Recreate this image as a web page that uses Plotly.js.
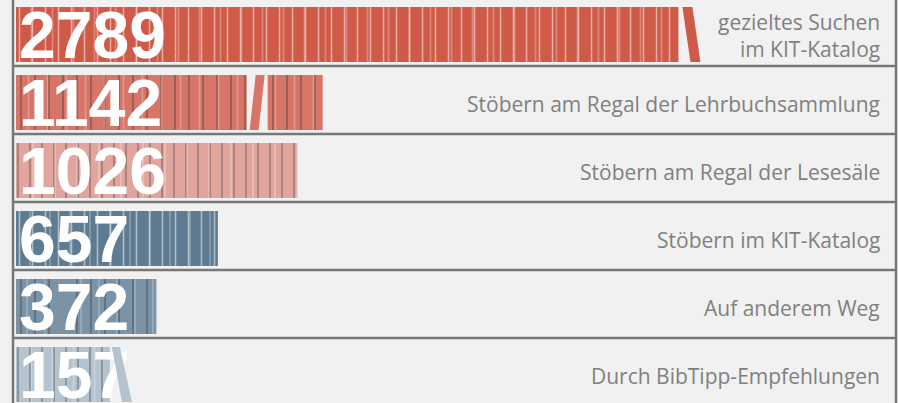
<!DOCTYPE html>
<html><head><meta charset="utf-8">
<script src="https://cdn.plot.ly/plotly-3.0.1.min.js"></script>
<style>html,body{margin:0;padding:0;background:#f0f1f0;} #chart{width:898px;height:403px;}</style>
</head><body><div id="chart"></div>
<script>
// ---- data ----
const categories = ['gezieltes Suchen<br>im KIT-Katalog', 'Stöbern am Regal der Lehrbuchsammlung', 'Stöbern am Regal der Lesesäle', 'Stöbern im KIT-Katalog', 'Auf anderem Weg', 'Durch BibTipp-Empfehlungen'];
const values = [2789, 1142, 1026, 657, 372, 157];
const valueLabels = ['2789', '1142', '1026', '657', '372', '157'];

// ---- style ----
const colors = ['#cf5a48', '#d97567', '#e2a59d', '#5e7b91', '#7b93a7', '#b3c3cf'];
const BG = '#f0f1f0';
const W = 898, H = 403;
const PX_PER_UNIT = 0.216;
const U = 1 / PX_PER_UNIT;
const ZERO_PX = 76;
const xMin = -ZERO_PX * U;
const xMax = xMin + W * U;
const X_START = xMin + 16 * U;   // left edge of the shelf (axis start of the bars)
const ROW_PX = 68;
const yTop = -34.5 / ROW_PX;
const yBottom = yTop + H / ROW_PX;
const BAR_W = 55 / ROW_PX;

const idx = values.map((v, i) => i);

const traceBooks = {
  type: 'bar', orientation: 'h', y: categories,
  x: values.map(v => v - X_START), base: X_START, width: BAR_W,
  marker: {color: colors, line: {width: 0},
    pattern: {shape: '|', fillmode: 'overlay', fgcolor: 'rgba(255,255,255,0.7)',
      size: idx.map(i => [13, 14, 12, 13, 14, 12][i]), solidity: 0.12}},
  text: valueLabels, textposition: 'inside', insidetextanchor: 'start', constraintext: 'none', textangle: 0,
  insidetextfont: {family: 'Liberation Sans, Arial, sans-serif', size: 66, color: '#ffffff', weight: 'bold'},
  hoverinfo: 'skip', showlegend: false
};
const traceGaps = {
  type: 'bar', orientation: 'h', y: categories,
  x: values.map(v => v - X_START), base: X_START, width: BAR_W,
  marker: {color: 'rgba(0,0,0,0)', line: {width: 0},
    pattern: {shape: '|', fillmode: 'overlay', bgcolor: 'rgba(0,0,0,0)', fgcolor: 'rgba(255,255,255,0.55)',
      size: idx.map(i => [21, 19, 22, 20, 18, 21][i]), solidity: 0.08}},
  hoverinfo: 'skip', showlegend: false
};

const shapes = [];
// shelf boards
for (let i = 0; i < 6; i++) {
  const y = i + (66 - 34.5) / ROW_PX;
  shapes.push({type: 'line', xref: 'paper', yref: 'y', x0: 13 / W, x1: 897 / W, y0: y, y1: y,
    line: {color: '#777777', width: 2.5}});
}
// side walls
shapes.push({type: 'line', xref: 'paper', yref: 'paper', x0: 13 / W, x1: 13 / W, y0: 0, y1: 1, line: {color: '#777777', width: 2.5}});
shapes.push({type: 'line', xref: 'paper', yref: 'paper', x0: 896 / W, x1: 896 / W, y0: 0, y1: 1, line: {color: '#777777', width: 2.5}});

function book(i, end, tl, tr, br, bl, col) {
  const t = i - BAR_W / 2, b = i + BAR_W / 2;
  return {type: 'path', xref: 'x', yref: 'y', layer: 'above',
    path: `M${end + tl * U},${t} L${end + tr * U},${t} L${end + br * U},${b} L${end + bl * U},${b} Z`,
    fillcolor: col, line: {width: 0}};
}
// leaning books
shapes.push(book(0, values[0], 4, 14, 22, 12, colors[0]));
shapes.push(book(5, values[5], 2, 10, 22, 12, colors[5]));
// gap + leaning book in the middle of row 2
shapes.push({type: 'rect', xref: 'x', yref: 'y', layer: 'above',
  x0: values[1] - 76 * U, x1: values[1] - 55 * U, y0: 1 - BAR_W / 2 - 0.01, y1: 1 + BAR_W / 2 + 0.01,
  fillcolor: BG, line: {width: 0}});
shapes.push(book(1, values[1], -67, -58, -64, -73, colors[1]));

const labelFont = {family: 'Open Sans, Noto Sans, sans-serif', size: 21, color: '#808080'};
const annotations = categories.map((c, i) => ({
  xref: 'paper', yref: 'y', x: 882 / W, y: i + 1 / ROW_PX,
  xanchor: 'right', yanchor: 'middle', align: 'right',
  text: c, showarrow: false, font: labelFont
}));

const layout = {
  width: W, height: H, margin: {l: 0, r: 0, t: 0, b: 0},
  paper_bgcolor: BG, plot_bgcolor: BG, barmode: 'overlay', showlegend: false,
  xaxis: {range: [xMin, xMax], visible: false, fixedrange: true},
  yaxis: {type: 'category', range: [yBottom, yTop], visible: false, fixedrange: true},
  shapes: shapes, annotations: annotations
};
Plotly.newPlot('chart', [traceBooks, traceGaps], layout, {displayModeBar: false, staticPlot: true});
</script></body></html>
